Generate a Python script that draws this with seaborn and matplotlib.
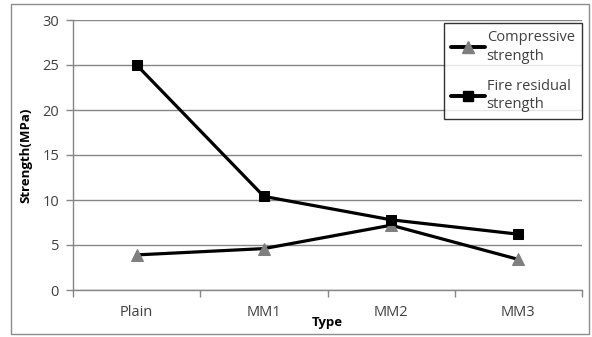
import matplotlib
matplotlib.use("Agg")
import matplotlib.pyplot as plt
from matplotlib.patches import Rectangle
from matplotlib.lines import Line2D
import seaborn as sns
import pandas as pd

# Strength of each mix type
types = ["Plain", "MM1", "MM2", "MM3"]
compressive = [3.9, 4.6, 7.2, 3.4]
fire_residual = [25.0, 10.4, 7.8, 6.2]
y_ticks = [0, 5, 10, 15, 20, 25, 30]

sns.set_theme(style="white")
plt.rcParams["font.family"] = ["Open Sans", "DejaVu Sans"]

df = pd.DataFrame({"Type": types, "Compressive": compressive, "Fire": fire_residual})

fig = plt.figure(figsize=(5.92, 3.37), dpi=100)
fig.patch.set_facecolor("white")
ax = fig.add_axes([73 / 592, 47 / 337, 509 / 592, 270 / 337])

grid_col = "#868686"
text_col = "#404040"

sns.lineplot(data=df, x="Type", y="Compressive", ax=ax, color="black", lw=2.3,
             marker="^", markersize=9, markerfacecolor="#7f7f7f",
             markeredgecolor="#7f7f7f", sort=False, zorder=3)
sns.lineplot(data=df, x="Type", y="Fire", ax=ax, color="black", lw=2.3,
             marker="s", markersize=7.5, markerfacecolor="black",
             markeredgecolor="black", sort=False, zorder=4)

ax.set_xlim(-0.5, len(types) - 0.5)
ax.set_ylim(0, 30)
ax.set_yticks(y_ticks)
ax.set_yticklabels([str(v) for v in y_ticks], fontsize=10.5, color=text_col)
ax.set_xticks(range(len(types)))
ax.set_xticklabels(types, fontsize=10.5, color=text_col)
ax.set_xticks([i - 0.5 for i in range(len(types) + 1)], minor=True)

ax.tick_params(axis="x", which="major", length=0, pad=11)
ax.tick_params(axis="x", which="minor", length=5, width=1, color=grid_col, direction="out")
ax.tick_params(axis="y", which="major", length=5, width=1, color=grid_col, direction="out", pad=5)
ax.tick_params(left=True, bottom=True)
ax.tick_params(axis="x", which="minor", bottom=True)

ax.yaxis.grid(True, color=grid_col, lw=1)
ax.xaxis.grid(False)
ax.set_axisbelow(True)
for side in ["top", "right"]:
    ax.spines[side].set_visible(False)
for side in ["left", "bottom"]:
    ax.spines[side].set_color(grid_col)
    ax.spines[side].set_linewidth(1)

ax.set_ylabel("Strength(MPa)", fontsize=9.5, fontweight="bold", color="black", labelpad=7)
ax.set_xlabel("Type", fontsize=9.5, fontweight="bold", color="black", labelpad=-3)

handles = [
    Line2D([], [], color="black", lw=2.8, marker="^", markersize=8,
           markerfacecolor="#7f7f7f", markeredgecolor="#7f7f7f"),
    Line2D([], [], color="black", lw=2.8, marker="s", markersize=7,
           markerfacecolor="black", markeredgecolor="black"),
]
leg = fig.legend(handles, ["Compressive\nstrength", "Fire residual\nstrength"],
                 loc="upper right", bbox_to_anchor=(582 / 592, 1 - 23 / 337),
                 fontsize=10.5, frameon=True, fancybox=False, handlelength=2.3,
                 handletextpad=0.15, borderpad=0.5, labelspacing=1.05,
                 borderaxespad=0)
leg.get_frame().set_edgecolor("black")
leg.get_frame().set_linewidth(1)
for t in leg.get_texts():
    t.set_color(text_col)
    t.set_linespacing(1.3)

# Chart border around the whole figure
fig.patches.append(Rectangle((11 / 592, 3 / 337), 578 / 592, 330 / 337,
                             transform=fig.transFigure, fill=False,
                             edgecolor="#8c8c8c", lw=1))

fig.savefig("out.png", dpi=100)
